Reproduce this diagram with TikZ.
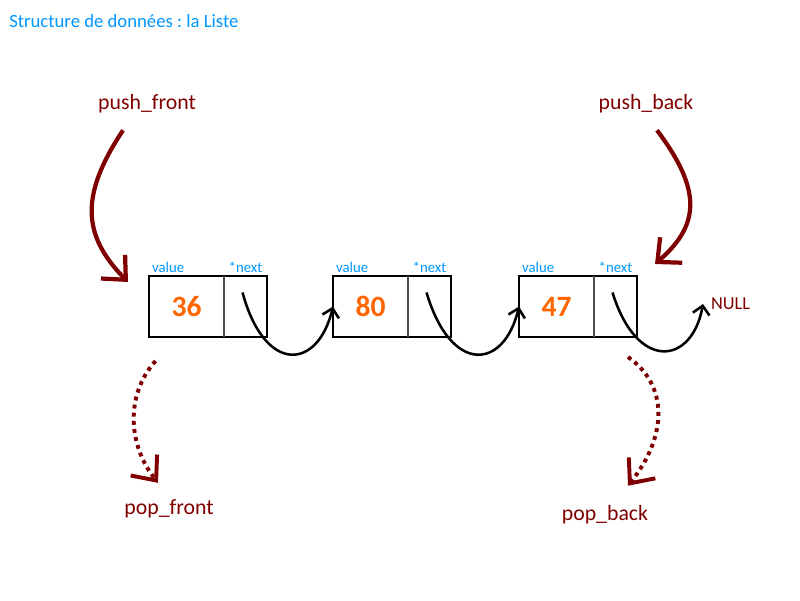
\documentclass[tikz,border=0pt]{standalone}
\usepackage{fontspec}
\setmainfont{Carlito}
\usetikzlibrary{positioning,arrows.meta}
\frenchspacing

\definecolor{titleblue}{RGB}{0,150,255}
\definecolor{darkred}{RGB}{127,0,0}
\definecolor{numorange}{RGB}{255,102,0}

\tikzset{
	valcell/.style={draw, line width=1.4pt, minimum width=1.875cm, minimum height=1.525cm, inner sep=0pt, outer sep=0pt},
	nextcell/.style={draw, line width=1.4pt, minimum width=1.075cm, minimum height=1.525cm, inner sep=0pt, outer sep=0pt},
	fieldlbl/.style={text=titleblue, font=\fontsize{10.5}{11}\selectfont, inner sep=1pt},
	numlbl/.style={text=numorange, font=\fontsize{21}{23}\selectfont\bfseries},
	oplbl/.style={text=darkred, font=\fontsize{15.5}{17}\selectfont},
	pusharrow/.style={draw=darkred, line width=3pt, -{Straight Barb[length=13pt,width=24pt]}},
	poparrow/.style={draw=darkred, line width=2.8pt, dash pattern=on 2.8pt off 3pt, -{Straight Barb[length=14pt,width=24pt]}},
	linkarrow/.style={draw, line width=1.8pt, -{Straight Barb[length=6pt,width=12pt]}}
}

\begin{document}
\begin{tikzpicture}[x=0.025cm, y=-0.025cm]
	\useasboundingbox (0,0) rectangle (800,600);
	% title
	\node[anchor=west, text=titleblue, font=\fontsize{13.3}{15}\selectfont, inner sep=0pt] (title) at (9,21) {Structure de données : la Liste};

	% list cells
	\node[valcell] (v1) at (186.5,306.5) {};
	\node[nextcell, right=0pt of v1] (n1) {};
	\node[valcell] (v2) at (370.5,306.5) {};
	\node[nextcell, right=0pt of v2] (n2) {};
	\node[valcell] (v3) at (556.5,306.5) {};
	\node[nextcell, right=0pt of v3] (n3) {};
	\draw[gray!60!black, line width=1.4pt] (v1.north east) -- (v1.south east);
	\draw[gray!60!black, line width=1.4pt] (v2.north east) -- (v2.south east);
	\draw[gray!60!black, line width=1.4pt] (v3.north east) -- (v3.south east);

	% values
	\node[numlbl] (x1) at (v1.center) {36};
	\node[numlbl] (x2) at (v2.center) {80};
	\node[numlbl] (x3) at (v3.center) {47};

	% field names
	\node[fieldlbl, above right=1pt and 1pt of v1.north west] (f1) {value};
	\node[fieldlbl, above=1pt of n1.north] (p1) {*next};
	\node[fieldlbl, above right=1pt and 1pt of v2.north west] (f2) {value};
	\node[fieldlbl, above=1pt of n2.north] (p2) {*next};
	\node[fieldlbl, above right=1pt and 1pt of v3.north west] (f3) {value};
	\node[fieldlbl, above=1pt of n3.north] (p3) {*next};

	% operations
	\node[oplbl] (pushf) at (147,104) {push\_front};
	\node[oplbl] (pushb) at (646,104) {push\_back};
	\node[oplbl] (popf) at (169,509) {pop\_front};
	\node[oplbl] (popb) at (605,515) {pop\_back};
	\node[text=darkred, font=\fontsize{13}{15}\selectfont, anchor=west, inner sep=2pt] (null) at (708,304) {NULL};

	% links
	\draw[linkarrow] ([shift={(-3,-14)}]n1.center) .. controls (265,375) and (318,370) .. (v2.west);
	\draw[linkarrow] ([shift={(-3,-14)}]n2.center) .. controls (451,375) and (504,370) .. (v3.west);
	\draw[linkarrow] ([shift={(-3,-14)}]n3.center) .. controls (637,372) and (692,365) .. ([shift={(-5,0)}]null.west);

	% push / pop
	\draw[pusharrow] ([shift={(-24,12)}]pushf.south) .. controls (80,195) and (82,235) .. ([shift={(-21,6)}]v1.north west);
	\draw[pusharrow] ([shift={(11,12)}]pushb.south) .. controls (702,190) and (700,225) .. ([shift={(18,-12)}]n3.north east);
	\draw[poparrow] ([shift={(-31,24)}]v1.south) .. controls (125,395) and (128,445) .. ([shift={(-11,-12)}]popf.north);
	\draw[poparrow] ([shift={(34,20)}]n3.south west) .. controls (668,385) and (668,435) .. ([shift={(23,-15)}]popb.north);
\end{tikzpicture}
\end{document}
